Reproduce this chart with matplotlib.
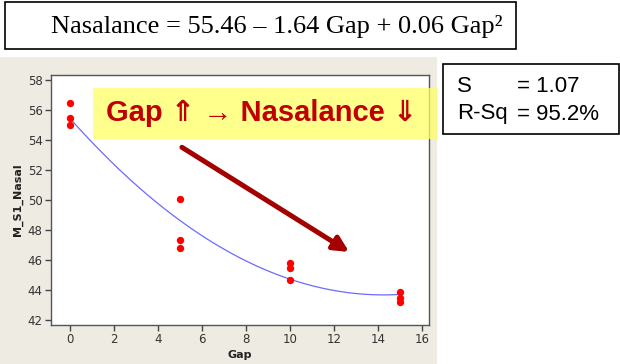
import numpy as np
import matplotlib
matplotlib.use("Agg")
import matplotlib.pyplot as plt
from matplotlib.patches import Rectangle

# Data
gap = [0, 0, 0, 5, 5, 5, 10, 10, 10, 15, 15, 15]
nasal = [56.45, 55.45, 55.0, 50.05, 47.35, 46.8, 45.8, 45.5, 44.7, 43.9, 43.5, 43.2]
xticks = [0, 2, 4, 6, 8, 10, 12, 14, 16]
yticks = [42, 44, 46, 48, 50, 52, 54, 56, 58]
equation = "Nasalance = 55.46 \u2013 1.64 Gap + 0.06 Gap\u00b2"
stats_names = ["S", "R-Sq"]
stats_values = ["= 1.07", "= 95.2%"]
banner = "Gap \u21d1 \u2192 Nasalance \u21d3"

W, H = 620, 364
fig = plt.figure(figsize=(6.2, 3.64), dpi=100)
fig.patch.set_facecolor("white")

def fx(px):
    return px / W

def fy(py):
    return 1 - py / H

# beige Minitab panel
fig.patches.append(Rectangle((0, 0), fx(437), fy(57), transform=fig.transFigure,
                             facecolor="#EEEBE2", edgecolor="none", zorder=-5))

ax = fig.add_axes([fx(51), fy(325), fx(429) - fx(51), fy(75) - fy(325)])
ax.set_zorder(1)
ax.set_facecolor("white")
ax.set_xlim(-0.85, 16.33)
ax.set_ylim(41.7, 58.3)

ax.scatter(gap, nasal, s=28, color="#FF0000", zorder=3, linewidths=0)
coef = np.polyfit(gap, nasal, 2)
xs = np.linspace(min(gap), max(gap), 200)
ax.plot(xs, np.polyval(coef, xs), color="#6B6BFF", lw=0.9, zorder=2)

ax.set_xticks(xticks)
ax.set_yticks(yticks)
ax.tick_params(direction="out", length=4, width=1, colors="#444444", labelsize=8.5,
               labelcolor="#333333", pad=2)
for side in ["left", "bottom", "right", "top"]:
    ax.spines[side].set_color("#555555")
    ax.spines[side].set_linewidth(1)
ax.set_xlabel("Gap", fontsize=8, fontweight="bold", color="#222222", labelpad=3)
ax.set_ylabel("M_S1_Nasal", fontsize=8, fontweight="bold", color="#222222", labelpad=3)

# dark red arrow
ax.annotate("", xy=(12.7, 46.55), xycoords="data", xytext=(5.1, 53.5),
            arrowprops=dict(arrowstyle="-|>,head_length=0.9,head_width=0.45",
                            color="#A50000", lw=3.6, shrinkA=0, shrinkB=0), zorder=6)

# yellow banner
fig.patches.append(Rectangle((fx(93), fy(139)), fx(438) - fx(93), fy(88) - fy(139),
                             transform=fig.transFigure, facecolor="#FFFF66", alpha=0.75,
                             edgecolor="none", zorder=5))
fig.text(fx(262), fy(113), banner, ha="center", va="center", fontsize=21,
         fontweight="bold", color="#C00000", family=["Liberation Sans", "DejaVu Sans"], zorder=6)

# equation box
fig.patches.append(Rectangle((fx(5), fy(49)), fx(516) - fx(5), fy(2) - fy(49),
                             transform=fig.transFigure, facecolor="white",
                             edgecolor="black", lw=1.2, zorder=5))
fig.text(fx(277), fy(27), equation, ha="center", va="center", fontsize=19,
         family="Liberation Serif", color="black", zorder=6)

# stats box
fig.patches.append(Rectangle((fx(443), fy(134)), fx(619) - fx(443), fy(64) - fy(134),
                             transform=fig.transFigure, facecolor="white",
                             edgecolor="black", lw=1.2, zorder=5))
for i, (nm, val) in enumerate(zip(stats_names, stats_values)):
    yy = fy(87 + 27 * i)
    fig.text(fx(457), yy, nm, ha="left", va="center", fontsize=16,
             family="Liberation Sans", zorder=6)
    fig.text(fx(517), yy, val, ha="left", va="center", fontsize=16,
             family="Liberation Sans", zorder=6)

fig.savefig("out.png", dpi=100)
